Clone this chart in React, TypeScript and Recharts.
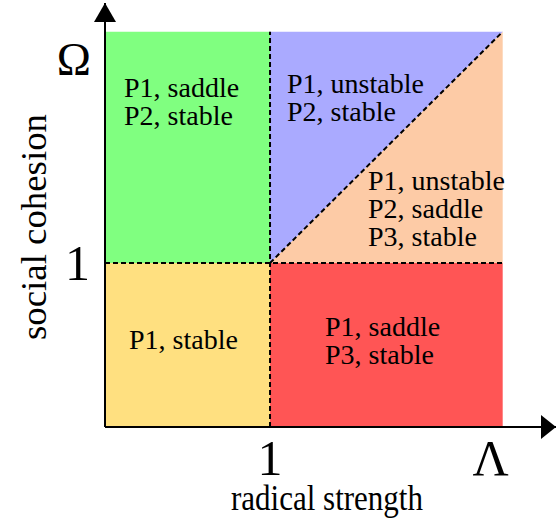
import {
  ComposedChart,
  Area,
  XAxis,
  YAxis,
  ReferenceArea,
  ReferenceLine,
  ReferenceDot,
} from 'recharts';

// thresholds (Lambda and Omega) in model units
const LAMBDA = 2.41;
const OMEGA = 2.41;
const X_END = 2.733;
const Y_END = 2.585;

const xTicks = [1, LAMBDA];
const xTickLabels = ['1', 'Λ'];
const yTicks = [1, OMEGA];
const yTickLabels = ['1', 'Ω'];

// triangle bands in the upper-right quadrant, split by the diagonal
const bandData = [
  { x: 1, upper: [1, OMEGA], lower: [1, 1] },
  { x: LAMBDA, upper: [OMEGA, OMEGA], lower: [1, OMEGA] },
];

const regions = [
  { id: 'green', x1: 0, x2: 1, y1: 1, y2: OMEGA, fill: '#80ff80', lines: ['P1, saddle', 'P2, stable'] },
  { id: 'yellow', x1: 0, x2: 1, y1: 0, y2: 1, fill: '#ffe080', lines: ['P1, stable'] },
  { id: 'red', x1: 1, x2: LAMBDA, y1: 0, y2: 1, fill: '#ff5555', lines: ['P1, saddle', 'P3, stable'] },
  { id: 'blue', x1: 1, x2: LAMBDA, y1: 1, y2: OMEGA, fill: 'none', lines: ['P1, unstable', 'P2, stable'] },
  { id: 'peach', x1: 1, x2: LAMBDA, y1: 1, y2: OMEGA, fill: 'none', lines: ['P1, unstable', 'P2, saddle', 'P3, stable'] },
];

// where the text sits inside each region box (px from its top-left corner)
const labelOffset: Record<string, [number, number]> = {
  green: [19, 65],
  yellow: [24, 86],
  red: [55, 73],
  blue: [17, 61],
  peach: [98, 158],
};

const SERIF = "'Liberation Serif', 'Times New Roman', Times, serif";

function XTick(props: any) {
  const { x, y, payload, index } = props;
  const shift = index === 1 ? -12 : 0;
  return (
    <text x={x + shift} y={y + 46} textAnchor="middle" fontFamily={SERIF} fontSize={50} fill="#000">
      {xTickLabels[index] ?? payload.value}
    </text>
  );
}

function YTick(props: any) {
  const { x, y, payload, index } = props;
  const isTop = index === 1;
  return (
    <text
      x={x - (isTop ? 12 : 13)}
      y={y + (isTop ? 43 : 17)}
      textAnchor="end"
      fontFamily={SERIF}
      fontSize={isTop ? 46 : 50}
      fill="#000"
    >
      {yTickLabels[index] ?? payload.value}
    </text>
  );
}

export default function App() {
  return (
    <div style={{ position: 'absolute', left: 0, top: 0, width: 556, height: 529, fontFamily: SERIF }}>
      <ComposedChart width={556} height={529} data={bandData} margin={{ top: 3, right: 0, bottom: 0, left: 0 }}>
        <XAxis
          dataKey="x"
          type="number"
          domain={[0, X_END]}
          allowDataOverflow
          ticks={xTicks}
          tick={<XTick />}
          tickLine={false}
          tickSize={0}
          height={102}
          axisLine={{ stroke: '#000', strokeWidth: 2 }}
          label={{
            content: () => (
              <text
                x={327}
                y={510}
                textAnchor="middle"
                fontFamily={SERIF}
                fontSize={36}
                textLength={192}
                lengthAdjust="spacingAndGlyphs"
                fill="#000"
              >
                radical strength
              </text>
            ),
          }}
        />
        <YAxis
          type="number"
          domain={[0, Y_END]}
          allowDataOverflow
          ticks={yTicks}
          tick={<YTick />}
          tickLine={false}
          tickSize={0}
          width={105}
          axisLine={{ stroke: '#000', strokeWidth: 2 }}
          label={{
            content: () => (
              <text
                transform="translate(46, 227) rotate(-90)"
                textAnchor="middle"
                fontFamily={SERIF}
                fontSize={35}
                textLength={226}
                lengthAdjust="spacingAndGlyphs"
                fill="#000"
              >
                social cohesion
              </text>
            ),
          }}
        />
        {regions
          .filter((r) => r.fill !== 'none')
          .map((r) => (
            <ReferenceArea key={r.id} x1={r.x1} x2={r.x2} y1={r.y1} y2={r.y2} fill={r.fill} fillOpacity={1} stroke="none" />
          ))}
        <Area type="linear" dataKey="lower" fill="#fdcba6" fillOpacity={1} stroke="none" isAnimationActive={false} />
        <Area type="linear" dataKey="upper" fill="#aaaaff" fillOpacity={1} stroke="none" isAnimationActive={false} />
        <ReferenceLine segment={[{ x: 1, y: 0 }, { x: 1, y: OMEGA }]} stroke="#000" strokeWidth={2} strokeDasharray="5 3" />
        <ReferenceLine segment={[{ x: 0, y: 1 }, { x: LAMBDA, y: 1 }]} stroke="#000" strokeWidth={2} strokeDasharray="5 3" />
        <ReferenceLine segment={[{ x: 1, y: 1 }, { x: LAMBDA, y: OMEGA }]} stroke="#000" strokeWidth={2} strokeDasharray="5 3" />
        {regions.map((r) => (
          <ReferenceDot
            key={'lbl-' + r.id}
            x={r.x1}
            y={r.y2}
            r={0}
            ifOverflow="visible"
            shape={(p: any) => {
              const [dx, dy] = labelOffset[r.id];
              return (
                <g>
                  {r.lines.map((t, i) => (
                    <text
                      key={t + i}
                      x={p.cx + dx}
                      y={p.cy + dy + i * 28}
                      fontFamily={SERIF}
                      fontSize={28}
                      fill="#000"
                    >
                      {t}
                    </text>
                  ))}
                </g>
              );
            }}
          />
        ))}
        <ReferenceDot
          x={0}
          y={Y_END}
          r={0}
          ifOverflow="visible"
          shape={(p: any) => (
            <polygon points={`${p.cx},${p.cy} ${p.cx - 11},${p.cy + 19} ${p.cx + 11},${p.cy + 19}`} fill="#000" />
          )}
        />
        <ReferenceDot
          x={X_END}
          y={0}
          r={0}
          ifOverflow="visible"
          shape={(p: any) => (
            <polygon points={`${p.cx},${p.cy} ${p.cx - 15},${p.cy - 12} ${p.cx - 15},${p.cy + 12}`} fill="#000" />
          )}
        />
      </ComposedChart>
    </div>
  );
}
